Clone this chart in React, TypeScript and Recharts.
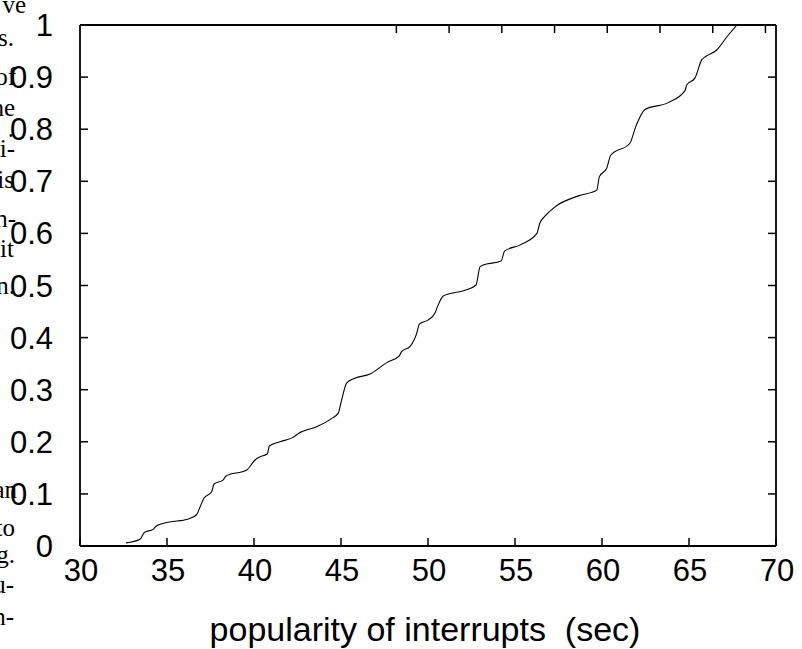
import React from 'react';
import { LineChart, Line, XAxis, YAxis } from 'recharts';

// CDF of interrupt popularity
const popularity = [
  32.64, 33.45, 33.7, 34.2, 34.37, 34.98, 36.23, 36.7, 36.9, 37.13, 37.57, 37.7, 38.24, 38.37, 39.58,
  40.06, 40.34, 40.77, 40.88, 41.49, 42.26, 42.55, 43.6, 44.47, 44.84, 45.04, 45.33, 45.8, 46.67,
  47.63, 48.35, 48.48, 48.97, 49.35, 49.5, 50.02, 50.4, 50.54, 50.88, 52.13, 52.76, 52.99, 53.14,
  54.2, 54.4, 55.3, 56.26, 56.42, 56.72, 57.3, 58.64, 59.7, 59.85, 60.27, 60.5, 61.6, 61.94, 62.47,
  63.81, 64.77, 64.87, 65.34, 65.73, 65.98, 66.59, 67.17, 67.76,
];
const cdf = [
  0.006, 0.013, 0.026, 0.032, 0.038, 0.045, 0.052, 0.06, 0.075, 0.092, 0.104, 0.119, 0.127, 0.134, 0.146,
  0.165, 0.171, 0.177, 0.192, 0.2, 0.209, 0.216, 0.229, 0.245, 0.255, 0.281, 0.313, 0.322, 0.33,
  0.352, 0.365, 0.373, 0.383, 0.408, 0.426, 0.434, 0.447, 0.459, 0.48, 0.491, 0.501, 0.536, 0.539,
  0.547, 0.566, 0.578, 0.6, 0.619, 0.633, 0.651, 0.672, 0.683, 0.709, 0.725, 0.75, 0.773, 0.805, 0.838,
  0.851, 0.874, 0.885, 0.898, 0.933, 0.94, 0.952, 0.977, 1.0,
];
const xTicks = [30, 35, 40, 45, 50, 55, 60, 65, 70];
const yTicks = [0, 0.1, 0.2, 0.3, 0.4, 0.5, 0.6, 0.7, 0.8, 0.9, 1];
const xLabel = 'popularity of interrupts\u00a0 (sec)';

// clipped line endings of the neighbouring paper column
const sideText = ['ve', 's.', 'of', 'he', '.', 'i-', 'is', 'n-', 'it', 'n.', 'an', 'to', 'g.', 'u-', 'n-'];
const sideTextY = [13, 46, 85, 116, 137, 157, 188, 227, 257, 294, 498, 536, 563, 593, 625];
const sideTextX = [26, 14, 16, 15, 14, 15, 14, 16, 14, 15, 17, 15, 15, 14, 14];

const data = popularity.map((v, i) => ({ v, p: cdf[i] }));

const SANS = '"Liberation Sans", Arial, Helvetica, sans-serif';
const TICK = 8;

const BottomTick = ({ x, y, payload }: any) => (
  <g>
    <line x1={x} y1={y} x2={x} y2={y - TICK} stroke="#000" strokeWidth={1.5} />
    <text x={x + 1} y={y + 13} dy="0.71em" textAnchor="middle" fontSize={31} fontFamily={SANS} fill="#000">
      {payload.value}
    </text>
  </g>
);

const TopTick = ({ x, y }: any) => (
  <line x1={x} y1={y} x2={x} y2={y + TICK} stroke="#000" strokeWidth={1.5} />
);

const LeftTick = ({ x, y, payload }: any) => (
  <g>
    <line x1={x} y1={y} x2={x + TICK} y2={y} stroke="#000" strokeWidth={1.5} />
    <text x={x - 27} y={y} dy="0.355em" textAnchor="end" fontSize={31} fontFamily={SANS} fill="#000">
      {payload.value}
    </text>
  </g>
);

const RightTick = ({ x, y }: any) => (
  <line x1={x} y1={y} x2={x - TICK} y2={y} stroke="#000" strokeWidth={1.5} />
);

const frame = { stroke: '#000', strokeWidth: 1.8 };

const App: React.FC = () => (
  <div style={{ position: 'absolute', left: 0, top: 0, width: 802, height: 649, background: '#fff' }}>
    <svg width={802} height={649} style={{ position: 'absolute', left: 0, top: 0 }}>
      {sideText.map((t, i) => (
        <text
          key={i}
          x={sideTextX[i]}
          y={sideTextY[i]}
          textAnchor="end"
          fontSize={25}
          fontFamily='"Liberation Serif", "Times New Roman", serif'
          fill="#000"
        >
          {t}
        </text>
      ))}
    </svg>
    <div style={{ position: 'absolute', left: 0, top: 0 }}>
      <LineChart width={802} height={649} data={data} margin={{ top: 0, right: 0, bottom: 0, left: 0 }}>
        <XAxis
          xAxisId="b"
          type="number"
          dataKey="v"
          domain={[30, 70]}
          ticks={xTicks}
          interval={0}
          allowDataOverflow
          orientation="bottom"
          height={103}
          tickLine={false}
          tickSize={0}
          tickMargin={0}
          tick={BottomTick}
          axisLine={frame}
          label={{
            value: xLabel,
            position: 'insideBottom',
            offset: 8,
            dx: -3,
            fontSize: 34,
            fontFamily: SANS,
            fill: '#000',
          }}
        />
        <XAxis
          xAxisId="t"
          type="number"
          domain={[30, 70]}
          ticks={xTicks}
          interval={0}
          allowDataOverflow
          orientation="top"
          height={25}
          tickLine={false}
          tickSize={0}
          tickMargin={0}
          tick={TopTick}
          axisLine={frame}
        />
        <YAxis
          yAxisId="l"
          type="number"
          domain={[0, 1]}
          ticks={yTicks}
          interval={0}
          allowDataOverflow
          width={80}
          tickLine={false}
          tickSize={0}
          tickMargin={0}
          tick={LeftTick}
          axisLine={frame}
        />
        <YAxis
          yAxisId="r"
          orientation="right"
          type="number"
          domain={[0, 1]}
          ticks={yTicks}
          interval={0}
          allowDataOverflow
          width={26}
          tickLine={false}
          tickSize={0}
          tickMargin={0}
          tick={RightTick}
          axisLine={frame}
        />
        <Line
          xAxisId="b"
          yAxisId="l"
          dataKey="p"
          type="monotone"
          stroke="#000"
          strokeWidth={1.1}
          dot={false}
          isAnimationActive={false}
        />
      </LineChart>
    </div>
  </div>
);

export default App;
